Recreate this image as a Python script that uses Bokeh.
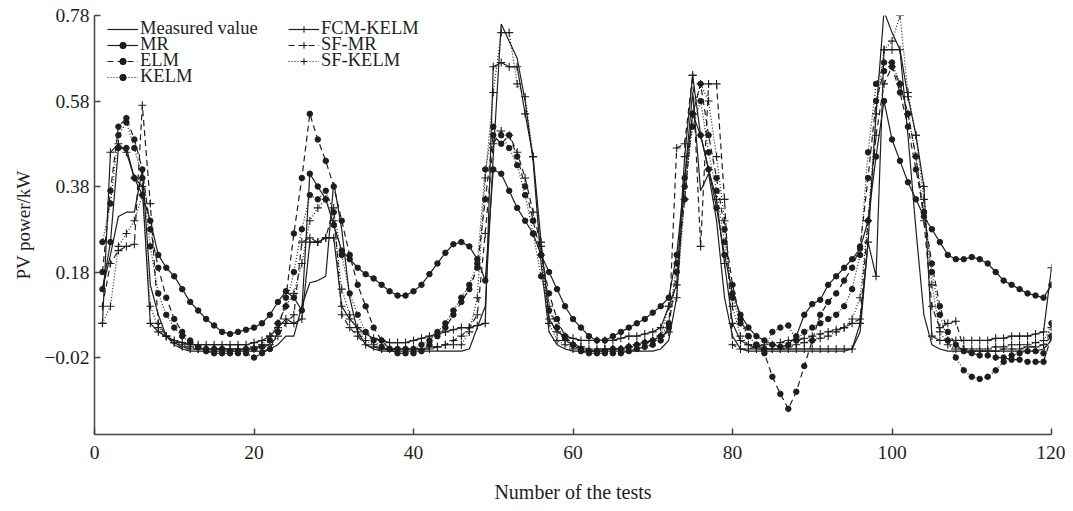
from bokeh.plotting import figure
from bokeh.models import Range1d, Legend, LegendItem, FixedTicker
from bokeh.embed import file_html
from bokeh.resources import INLINE

tests = list(range(1, 121))

measured = [
    0.14, 0.22, 0.31, 0.32, 0.32, 0.42, 0.15, 0.08, 0.03, 0.01, 0.00, -0.005, -0.005, -0.005, -0.005, -0.005, -0.005, -0.005, -0.005, -0.005, -0.005, 0.00, 0.01, 0.03,
    0.03, 0.10, 0.155, 0.16, 0.17, 0.39, 0.28, 0.12, 0.04, 0.01, 0.00, -0.005, -0.005, -0.005, -0.005, -0.005, -0.005, -0.005, -0.005, -0.005, -0.005, -0.005, 0.00, 0.05,
    0.10, 0.45, 0.76, 0.72, 0.68, 0.58, 0.44, 0.20, 0.04, 0.01, 0.00, -0.005, -0.005, -0.005, -0.005, -0.005, -0.005, -0.005, -0.005, -0.005, -0.005, -0.005, 0.00, 0.02,
    0.12, 0.40, 0.60, 0.37, 0.41, 0.30, 0.12, 0.03, 0.00, -0.005, -0.005, -0.005, -0.005, -0.005, -0.005, -0.005, -0.005, -0.005, -0.005, -0.005, -0.005, -0.005, 0.00, 0.04,
    0.25, 0.55, 0.79, 0.74, 0.70, 0.50, 0.28, 0.08, 0.01, 0.00, -0.005, -0.005, -0.005, -0.005, -0.005, -0.005, -0.005, -0.005, -0.005, -0.005, -0.005, -0.005, 0.00, 0.02,
]
mr = [
    0.14, 0.25, 0.47, 0.47, 0.40, 0.36, 0.30, 0.22, 0.19, 0.17, 0.14, 0.11, 0.09, 0.07, 0.055, 0.04, 0.035, 0.04, 0.045, 0.05, 0.06, 0.08, 0.11, 0.135,
    0.12, 0.09, 0.41, 0.38, 0.35, 0.29, 0.23, 0.21, 0.19, 0.175, 0.165, 0.15, 0.135, 0.125, 0.125, 0.135, 0.15, 0.175, 0.20, 0.225, 0.245, 0.25, 0.24, 0.21,
    0.16, 0.42, 0.41, 0.37, 0.33, 0.30, 0.27, 0.22, 0.18, 0.14, 0.10, 0.07, 0.05, 0.03, 0.02, 0.02, 0.03, 0.04, 0.05, 0.06, 0.07, 0.085, 0.10, 0.12,
    0.22, 0.40, 0.55, 0.50, 0.42, 0.33, 0.22, 0.13, 0.08, 0.05, 0.03, 0.02, 0.01, 0.005, 0.01, 0.03, 0.08, 0.105, 0.115, 0.15, 0.17, 0.19, 0.21, 0.235,
    0.30, 0.45, 0.58, 0.49, 0.44, 0.39, 0.35, 0.31, 0.28, 0.25, 0.22, 0.21, 0.21, 0.215, 0.21, 0.20, 0.18, 0.16, 0.15, 0.14, 0.13, 0.125, 0.12, 0.15,
]
elm = [
    0.18, 0.37, 0.52, 0.54, 0.49, 0.42, 0.28, 0.19, 0.12, 0.07, 0.04, 0.02, 0.005, -0.005, -0.01, -0.01, -0.01, -0.01, -0.01, -0.02, -0.01, 0.00, 0.04, 0.12,
    0.27, 0.40, 0.55, 0.49, 0.44, 0.38, 0.30, 0.22, 0.15, 0.10, 0.05, 0.02, 0.00, -0.01, -0.01, -0.01, -0.005, 0.01, 0.03, 0.05, 0.08, 0.11, 0.14, 0.19,
    0.35, 0.50, 0.48, 0.50, 0.45, 0.38, 0.30, 0.22, 0.13, 0.07, 0.03, 0.01, -0.005, -0.01, -0.01, -0.01, -0.01, -0.01, -0.005, 0.00, 0.005, 0.01, 0.02, 0.05,
    0.18, 0.35, 0.55, 0.62, 0.50, 0.40, 0.28, 0.15, 0.07, 0.03, 0.01, -0.01, -0.065, -0.105, -0.14, -0.10, -0.04, 0.02, 0.08, 0.11, 0.13, 0.16, 0.19, 0.24,
    0.40, 0.58, 0.65, 0.66, 0.60, 0.52, 0.42, 0.32, 0.20, 0.10, 0.04, 0.01, -0.005, -0.01, -0.015, -0.015, -0.02, -0.02, -0.025, -0.025, -0.03, -0.03, -0.03, 0.03,
]
kelm = [
    0.25, 0.34, 0.50, 0.53, 0.47, 0.40, 0.24, 0.13, 0.08, 0.05, 0.03, 0.015, 0.005, 0.00, 0.00, 0.00, -0.005, -0.005, 0.00, 0.00, 0.005, 0.02, 0.06, 0.10,
    0.18, 0.28, 0.36, 0.35, 0.37, 0.32, 0.22, 0.13, 0.08, 0.04, 0.02, 0.005, 0.00, 0.00, 0.00, 0.00, 0.01, 0.02, 0.04, 0.06, 0.09, 0.12, 0.15, 0.20,
    0.42, 0.52, 0.50, 0.47, 0.43, 0.36, 0.27, 0.17, 0.09, 0.05, 0.025, 0.01, 0.00, -0.005, -0.005, -0.005, 0.00, 0.00, 0.005, 0.01, 0.015, 0.02, 0.03, 0.06,
    0.20, 0.38, 0.52, 0.58, 0.46, 0.37, 0.25, 0.12, 0.06, 0.03, 0.01, 0.00, 0.04, 0.05, 0.055, 0.02, 0.04, 0.05, 0.06, 0.07, 0.08, 0.10, 0.14, 0.22,
    0.46, 0.62, 0.67, 0.67, 0.62, 0.55, 0.45, 0.32, 0.18, 0.08, 0.02, -0.02, -0.05, -0.065, -0.07, -0.065, -0.05, -0.03, -0.015, -0.01, -0.005, -0.005, -0.01, 0.06,
]
fcm_kelm = [
    0.06, 0.46, 0.48, 0.46, 0.40, 0.38, 0.06, 0.04, 0.03, 0.02, 0.015, 0.01, 0.01, 0.01, 0.01, 0.01, 0.01, 0.01, 0.01, 0.015, 0.02, 0.03, 0.05, 0.07,
    0.06, 0.07, 0.25, 0.25, 0.26, 0.26, 0.10, 0.07, 0.05, 0.035, 0.025, 0.02, 0.015, 0.015, 0.015, 0.02, 0.025, 0.03, 0.035, 0.04, 0.045, 0.05, 0.05, 0.055,
    0.06, 0.66, 0.67, 0.66, 0.66, 0.55, 0.45, 0.25, 0.07, 0.04, 0.03, 0.025, 0.02, 0.02, 0.02, 0.02, 0.02, 0.025, 0.03, 0.03, 0.035, 0.04, 0.05, 0.10,
    0.15, 0.45, 0.64, 0.50, 0.42, 0.35, 0.20, 0.06, 0.02, 0.01, 0.00, 0.00, 0.00, 0.00, 0.00, 0.00, 0.00, 0.00, 0.00, 0.00, 0.00, 0.00, 0.00, 0.06,
    0.25, 0.17, 0.70, 0.70, 0.70, 0.59, 0.50, 0.38, 0.03, 0.02, 0.02, 0.02, 0.02, 0.02, 0.02, 0.02, 0.025, 0.025, 0.03, 0.03, 0.03, 0.035, 0.04, 0.19,
]
sf_mr = [
    0.10, 0.20, 0.23, 0.24, 0.245, 0.57, 0.34, 0.06, 0.03, 0.015, 0.005, 0.00, 0.00, 0.00, 0.00, 0.00, 0.00, 0.00, 0.00, 0.00, 0.005, 0.01, 0.03, 0.06,
    0.08, 0.25, 0.26, 0.25, 0.26, 0.33, 0.08, 0.05, 0.03, 0.01, 0.005, 0.00, 0.00, 0.00, 0.00, 0.00, 0.00, 0.00, 0.005, 0.01, 0.02, 0.03, 0.05, 0.08,
    0.27, 0.48, 0.51, 0.50, 0.46, 0.40, 0.32, 0.24, 0.10, 0.05, 0.02, 0.01, 0.005, 0.00, 0.00, 0.00, 0.00, 0.00, 0.005, 0.01, 0.015, 0.02, 0.03, 0.04,
    0.47, 0.48, 0.64, 0.24, 0.62, 0.62, 0.35, 0.01, 0.00, 0.00, 0.005, 0.01, 0.01, 0.015, 0.02, 0.02, 0.025, 0.03, 0.035, 0.04, 0.045, 0.05, 0.06, 0.07,
    0.30, 0.50, 0.62, 0.66, 0.62, 0.55, 0.45, 0.30, 0.10, 0.05, 0.06, 0.065, 0.00, -0.005, -0.005, -0.005, -0.005, 0.00, 0.00, 0.00, 0.005, 0.005, 0.01, 0.03,
]
sf_kelm = [
    0.06, 0.10, 0.24, 0.27, 0.30, 0.36, 0.10, 0.05, 0.03, 0.015, 0.01, 0.005, 0.00, 0.00, 0.00, 0.00, 0.00, 0.00, 0.00, 0.005, 0.01, 0.03, 0.06, 0.10,
    0.13, 0.20, 0.30, 0.33, 0.35, 0.30, 0.14, 0.08, 0.04, 0.02, 0.01, 0.00, 0.00, 0.00, 0.00, 0.00, 0.00, 0.005, 0.005, 0.01, 0.01, 0.01, 0.04, 0.12,
    0.40, 0.60, 0.74, 0.74, 0.62, 0.59, 0.45, 0.22, 0.06, 0.02, 0.01, 0.00, 0.00, -0.005, -0.005, 0.00, 0.00, 0.00, 0.005, 0.01, 0.015, 0.02, 0.03, 0.10,
    0.12, 0.35, 0.55, 0.62, 0.58, 0.45, 0.30, 0.10, 0.03, 0.01, 0.005, 0.00, 0.00, 0.00, 0.005, 0.01, 0.015, 0.02, 0.025, 0.03, 0.04, 0.05, 0.07, 0.12,
    0.30, 0.55, 0.70, 0.72, 0.78, 0.60, 0.50, 0.35, 0.15, 0.04, 0.01, 0.00, 0.00, 0.00, 0.00, 0.00, 0.005, 0.005, 0.01, 0.01, 0.01, 0.015, 0.02, 0.05,
]

x_ticks = [0, 20, 40, 60, 80, 100, 120]
y_ticks = [-0.02, 0.18, 0.38, 0.58, 0.78]
y_tick_labels = {-0.02: "\u22120.02", 0.18: "0.18", 0.38: "0.38", 0.58: "0.58", 0.78: "0.78"}

FONT = "Liberation Serif"
INK = "#1e1e1e"

p = figure(width=1065, height=505, output_backend="svg", toolbar_location=None,
           x_range=Range1d(0, 120), y_range=Range1d(-0.2, 0.78),
           min_border_left=94, min_border_right=14, min_border_top=15, min_border_bottom=57)
p.outline_line_color = None
p.xgrid.visible = False
p.ygrid.visible = False

for ax in (p.xaxis, p.yaxis):
    ax.axis_line_color = "#444444"
    ax.axis_line_width = 1.5
    ax.major_tick_line_color = "#444444"
    ax.major_tick_line_width = 1.5
    ax.major_tick_in = 6
    ax.major_tick_out = 0
    ax.minor_tick_line_color = None
    ax.major_label_text_font = FONT
    ax.major_label_text_font_size = "19.5px"
    ax.major_label_text_color = INK
    ax.axis_label_text_font = FONT
    ax.axis_label_text_font_style = "normal"
    ax.axis_label_text_color = INK

p.xaxis.axis_label_text_font_size = "20px"
p.yaxis.axis_label_text_font_size = "19px"
p.xaxis.ticker = FixedTicker(ticks=x_ticks)
p.yaxis.ticker = FixedTicker(ticks=y_ticks)
p.yaxis.major_label_overrides = y_tick_labels
p.xaxis.axis_label = "Number of the tests"
p.yaxis.axis_label = "PV power/kW"
p.xaxis.major_label_standoff = 11
p.xaxis.axis_label_standoff = 19
p.yaxis.major_label_standoff = 5
p.yaxis.axis_label_standoff = 7

series = [
    ("Measured value", measured, None, None),
    ("MR", mr, None, "circle"),
    ("ELM", elm, "6 4", "circle"),
    ("KELM", kelm, "1 2", "circle"),
    ("FCM-KELM", fcm_kelm, None, "cross"),
    ("SF-MR", sf_mr, "6 4", "cross"),
    ("SF-KELM", sf_kelm, "1 2", "cross"),
]

items = []
for name, ys, dash, marker in series:
    kw = dict(line_color=INK, line_width=1.2)
    if dash:
        kw["line_dash"] = dash
    rs = [p.line(tests, ys, **kw)]
    if marker == "circle":
        rs.append(p.scatter(tests, ys, marker="circle", size=5.5, fill_color=INK, line_color=INK))
    elif marker == "cross":
        rs.append(p.scatter(tests, ys, marker="cross", size=8, line_color=INK, line_width=1.1))
    items.append(LegendItem(label=name, renderers=rs))

def make_legend(item, loc):
    lg = Legend(items=[item], location=loc, orientation="vertical")
    lg.border_line_color = None
    lg.background_fill_alpha = 0
    lg.padding = 0
    lg.margin = 0
    lg.spacing = 0
    lg.glyph_width = 31
    lg.glyph_height = 16
    lg.label_height = 16
    lg.label_standoff = 2
    lg.label_text_font = FONT
    lg.label_text_font_size = "18.5px"
    lg.label_text_color = INK
    lg.label_text_baseline = "middle"
    return lg

# one legend per row so the rows can sit as tightly as in the reference
row_y = [395, 379, 363, 347]
col_x = [13, 194]
for i, it in enumerate(items):
    col = 0 if i < 4 else 1
    row = i if i < 4 else i - 4
    p.add_layout(make_legend(it, (col_x[col], row_y[row])), "center")

open("out.html", "w").write(file_html(p, INLINE))
